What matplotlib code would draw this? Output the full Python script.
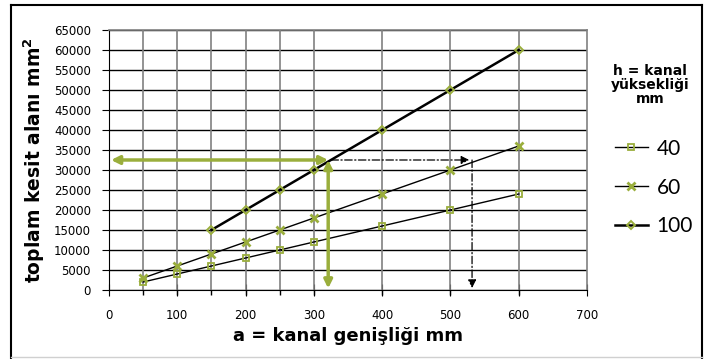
import matplotlib
matplotlib.use('Agg')
import matplotlib.pyplot as plt
from matplotlib.lines import Line2D

# genislik (a) degerleri ve kesit alanlari (a * h)
a_40 = [50, 100, 150, 200, 250, 300, 400, 500, 600]
alan_40 = [2000, 4000, 6000, 8000, 10000, 12000, 16000, 20000, 24000]
a_60 = [50, 100, 150, 200, 250, 300, 400, 500, 600]
alan_60 = [3000, 6000, 9000, 12000, 15000, 18000, 24000, 30000, 36000]
a_100 = [150, 200, 250, 300, 400, 500, 600]
alan_100 = [15000, 20000, 25000, 30000, 40000, 50000, 60000]
etiketler = ['40', '60', '100']

x_ticks = [0, 100, 200, 300, 400, 500, 600, 700]
y_ticks = list(range(0, 65001, 5000))
hedef_alan = 32500  # okunan ornek deger

yesil = '#9aae3c'
plt.rcParams['font.family'] = ['DejaVu Sans']

fig = plt.figure(figsize=(7.12, 3.59), dpi=100)
ax = fig.add_axes([109 / 712, 1 - 290 / 359, (587 - 109) / 712, 260 / 359])

# dikey izgara (veri noktalarinda)
ax.vlines(a_40, 0, 65000, color='#808080', lw=1.2, zorder=1)
ax.vlines(a_40, -1200, 0, color='black', lw=1, zorder=1, clip_on=False)

# cizgiler
ax.plot(a_40, alan_40, color='black', lw=1, marker='s', ms=5,
        mfc='none', mec=yesil, mew=1.3, label=etiketler[0], zorder=4)
ax.plot(a_60, alan_60, color='black', lw=1, marker='x', ms=6,
        mec=yesil, mew=2, label=etiketler[1], zorder=4)
ax.plot(a_100, alan_100, color='black', lw=1.8, marker='D', ms=4.5,
        mfc='none', mec=yesil, mew=1.4, label=etiketler[2], zorder=4)

# okuma oklari
a_kesisim = hedef_alan / 100
a_kesisim_60 = hedef_alan / 60
ax.annotate('', xy=(3, hedef_alan), xytext=(a_kesisim - 4, hedef_alan),
            arrowprops=dict(arrowstyle='<|-|>', color=yesil, lw=2.5,
                            mutation_scale=12, shrinkA=0, shrinkB=0), zorder=5)
ax.annotate('', xy=(a_kesisim - 4, 400), xytext=(a_kesisim - 4, hedef_alan),
            arrowprops=dict(arrowstyle='<|-|>', color=yesil, lw=2.5,
                            mutation_scale=12, shrinkA=0, shrinkB=0), zorder=5)
ax.annotate('', xy=(a_kesisim_60 - 14, hedef_alan), xytext=(a_kesisim, hedef_alan),
            arrowprops=dict(arrowstyle='-|>', color='black', lw=0.9, ls=(0, (6, 2, 1, 2)),
                            mutation_scale=12, shrinkA=0, shrinkB=0), zorder=5)
ax.annotate('', xy=(a_kesisim_60 - 10, 500), xytext=(a_kesisim_60 - 10, hedef_alan),
            arrowprops=dict(arrowstyle='-|>', color='black', lw=0.9, ls=(0, (6, 2, 1, 2)),
                            mutation_scale=12, shrinkA=0, shrinkB=0), zorder=5)

# eksenler ve izgara
ax.set_xlim(0, 700)
ax.set_ylim(0, 65000)
ax.set_xticks(x_ticks)
ax.set_yticks(y_ticks)
ax.grid(True, axis='y', which='major', color='black', lw=1)
ax.tick_params(axis='x', which='major', direction='inout', length=8, labelsize=8.5, pad=10)
ax.tick_params(axis='y', which='major', direction='out', length=5, labelsize=8.5, pad=8)
for s in ['top', 'right']:
    ax.spines[s].set_color('#808080')
    ax.spines[s].set_linewidth(1.2)
ax.set_axisbelow(True)

ax.set_xlabel('a = kanal genişliği mm', fontsize=13, fontweight='bold', labelpad=3)
ax.set_ylabel('toplam kesit alanı mm$^\\mathbf{2}$', fontsize=13.5, fontweight='bold', labelpad=5)

# lejant
fig.text(650 / 712, 1 - 85 / 359, 'h = kanal\nyüksekliği\nmm', ha='center', va='center',
         fontsize=10, fontweight='bold', linespacing=1.0)
leg = fig.legend(loc='upper left', bbox_to_anchor=(596 / 712, 1 - 120 / 359),
                 frameon=False, fontsize=15, handlelength=1.6, labelspacing=0.9,
                 handletextpad=0.4)
for t in leg.get_texts():
    t.set_family(['Lato', 'DejaVu Sans'])
    t.set_fontweight('normal')
    t.set_color('black')

# dis cerceve
fig.add_artist(Line2D([11 / 712, 11 / 712], [0, 1 - 4.5 / 359], color='black', lw=1.5))
fig.add_artist(Line2D([11 / 712, 702 / 712], [1 - 4.5 / 359, 1 - 4.5 / 359], color='black', lw=1.5))
fig.add_artist(Line2D([702 / 712, 702 / 712], [0, 1 - 4.5 / 359], color='black', lw=1.5))
fig.add_artist(Line2D([11 / 712, 702 / 712], [2 / 359, 2 / 359], color='#d0d0d0', lw=1))

fig.savefig('out.png', dpi=100)
